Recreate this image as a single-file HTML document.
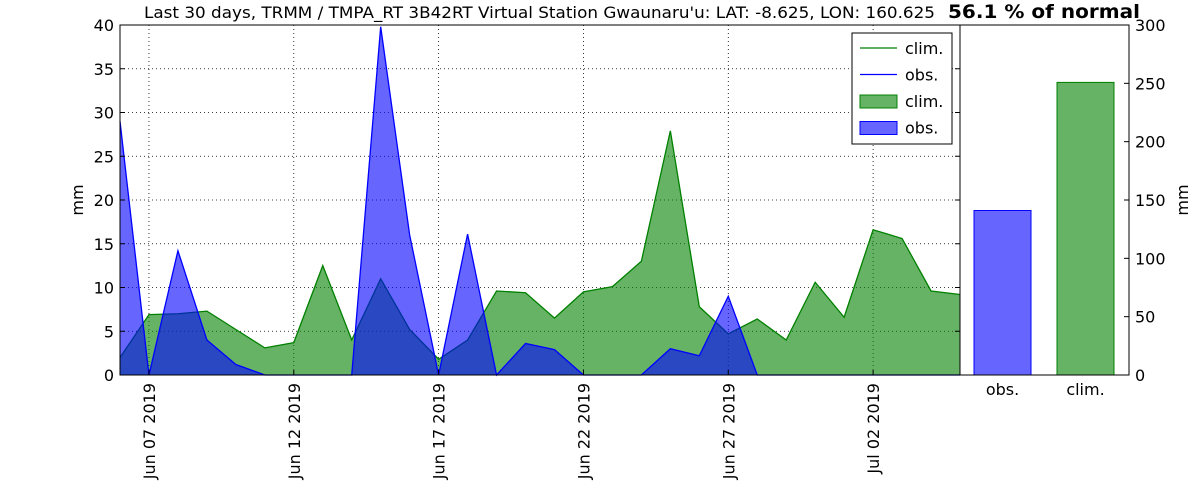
<!DOCTYPE html>
<html><head><meta charset="utf-8"><style>
body{margin:0;background:#fff;}
svg{display:block;font-family:"DejaVu Sans","Liberation Sans",sans-serif;}
</style></head><body>
<svg id="chart" width="1200" height="500" xmlns="http://www.w3.org/2000/svg"></svg>
<script>
const dateLabels=["Jun 07 2019","Jun 12 2019","Jun 17 2019","Jun 22 2019","Jun 27 2019","Jul 02 2019"];
const dateLabelIdx=[1,6,11,16,21,26];
const obsValues=[29,0,14.2,4,1.2,0,0,0,0,39.8,16,0,16.1,0,3.6,2.9,0,0,0,3,2.2,9,0,0,0,0,0,0,0,0];
const climValues=[2,6.9,7,7.3,5.2,3.1,3.7,12.5,4,11,5.2,1.8,4,9.6,9.4,6.5,9.5,10.1,13,27.9,7.8,4.7,6.4,4,10.6,6.6,16.6,15.6,9.6,9.2];
const yTicks=[0,5,10,15,20,25,30,35,40];
const barCategories=["obs.","clim."];
const barValues=[141,250.8];
const barTicks=[0,50,100,150,200,250,300];

const svg=document.getElementById('chart');
const NS='http://www.w3.org/2000/svg';
function mk(tag,attrs,parent){const e=document.createElementNS(NS,tag);for(const k in attrs)e.setAttribute(k,attrs[k]);(parent||svg).appendChild(e);return e;}
const L=120,R=960,T=25,B=375;
const x=i=>L+(R-L)*i/(obsValues.length-1);
const y=v=>B-(B-T)*v/40;
const bL=960,bR=1129;
const by=v=>B-(B-T)*v/300;

for(const t of yTicks){const g=mk('line',{x1:L,x2:R,y1:y(t),y2:y(t),stroke:'#000','stroke-dasharray':'1,3','stroke-width':0.8});
}
dateLabelIdx.forEach(i=>{const g=mk('line',{x1:x(i),x2:x(i),y1:T,y2:B,stroke:'#000','stroke-dasharray':'1,3','stroke-width':0.8});
});

function area(vals,fill,stroke,name){
 let d=`M${x(0)},${y(0)}`;vals.forEach((v,i)=>d+=`L${x(i)},${y(v)}`);d+=`L${x(vals.length-1)},${y(0)}Z`;
 const a=mk('path',{d,fill,'fill-opacity':0.6,stroke:'none'});
 
 const l=mk('polyline',{points:vals.map((v,i)=>x(i)+','+y(v)).join(' '),fill:'none',stroke,'stroke-width':1.3});
 
}
area(climValues,'#008000','#008000','clim');
area(obsValues,'#0000ff','#0000ff','obs');

mk('rect',{x:L,y:T,width:R-L,height:B-T,fill:'none',stroke:'#000'});
for(const t of yTicks){
 mk('line',{x1:L,x2:L+5,y1:y(t),y2:y(t),stroke:'#000'});mk('line',{x1:R-5,x2:R,y1:y(t),y2:y(t),stroke:'#000'});
 const tx=mk('text',{x:L-6,y:y(t)+6,'text-anchor':'end','font-size':16});tx.textContent=t;
 
}
dateLabelIdx.forEach((i,k)=>{
 mk('line',{x1:x(i),x2:x(i),y1:B-5,y2:B,stroke:'#000'});
 const tx=mk('text',{x:0,y:0,'text-anchor':'end','font-size':16,transform:`translate(${x(i)+6},${B+8}) rotate(-90)`});tx.textContent=dateLabels[k];
 
});
const yt=mk('text',{x:0,y:0,'text-anchor':'middle','font-size':16,transform:`translate(83,200) rotate(-90)`});yt.textContent='mm';


const bw=57;const bx=[974,1057];const bc=['#0000ff','#008000'];
barValues.forEach((v,i)=>{
 const r=mk('rect',{x:bx[i],y:by(v),width:bw,height:B-by(v),fill:bc[i],'fill-opacity':0.6,stroke:bc[i]});
 
 const tx=mk('text',{x:bx[i]+bw/2,y:B+20,'text-anchor':'middle','font-size':16});tx.textContent=barCategories[i];
 
});
mk('rect',{x:bL,y:T,width:bR-bL,height:B-T,fill:'none',stroke:'#000'});
for(const t of barTicks){
 mk('line',{x1:bR-5,x2:bR,y1:by(t),y2:by(t),stroke:'#000'});
 const tx=mk('text',{x:bR+6,y:by(t)+6,'font-size':16});tx.textContent=t;
 
}
const rt=mk('text',{x:0,y:0,'text-anchor':'middle','font-size':16,transform:`translate(1188,200) rotate(-90)`});rt.textContent='mm';


const tt=mk('text',{x:144,y:18,'font-size':16,textLength:791,lengthAdjust:'spacingAndGlyphs'});tt.textContent="Last 30 days, TRMM / TMPA_RT 3B42RT Virtual Station Gwaunaru'u: LAT: -8.625, LON: 160.625";

const pt=mk('text',{x:948,y:18,'font-size':19,'font-weight':'bold',textLength:192,lengthAdjust:'spacingAndGlyphs'});pt.textContent='56.1 % of normal';


const lg=mk('g',{});
mk('rect',{x:852,y:33,width:100,height:111,fill:'#fff',stroke:'#000'},lg);
const ents=[['line','#008000','clim.'],['line','#0000ff','obs.'],['patch','#008000','clim.'],['patch','#0000ff','obs.']];
ents.forEach((e,i)=>{const cy=48+i*26.5;
 const g=mk('g',{},lg);
 if(e[0]==='line')mk('line',{x1:860,x2:897,y1:cy,y2:cy,stroke:e[1],'stroke-width':1.3},g);
 else mk('rect',{x:860,y:cy-6,width:37,height:13,fill:e[1],'fill-opacity':0.6,stroke:e[1]},g);
 const t=mk('text',{x:905,y:cy+6,'font-size':16},g);t.textContent=e[2];});
</script>
</body></html>
